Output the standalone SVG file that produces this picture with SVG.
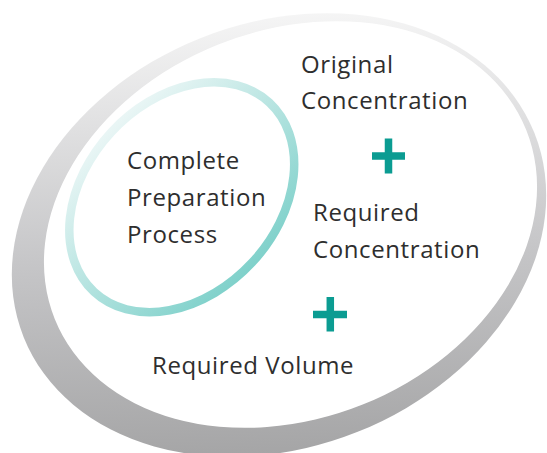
<svg xmlns="http://www.w3.org/2000/svg" width="547" height="453" viewBox="0 0 547 453">
  <style>
    .lbl { font-family: "Open Sans", "Liberation Sans", sans-serif; font-size: 24px; letter-spacing: 0.6px; fill: #2e2e2e; }
    .plus { stroke: #0b9c92; stroke-width: 7.5; fill: none; }
  </style>
  <defs>
    <linearGradient id="gOuter" gradientUnits="userSpaceOnUse" x1="220" y1="460" x2="380" y2="15">
      <stop offset="0" stop-color="#a3a3a4"/>
      <stop offset="0.45" stop-color="#c6c6c8"/>
      <stop offset="1" stop-color="#f9f9f9"/>
    </linearGradient>
    <linearGradient id="gTeal" gradientUnits="userSpaceOnUse" x1="170" y1="318" x2="185" y2="80">
      <stop offset="0" stop-color="#74cdc6"/>
      <stop offset="1" stop-color="#f3f9f9"/>
    </linearGradient>
  </defs>
  <rect width="547" height="453" fill="#ffffff"/>
  <g id="outer-ring">
    <ellipse cx="279" cy="235" rx="275" ry="212" transform="rotate(-21.8 279 235)" fill="url(#gOuter)"/>
    <ellipse cx="290.5" cy="224.5" rx="254" ry="194" transform="rotate(-21.85 290.5 224.5)" fill="#ffffff"/>
  </g>
  <g id="inner-ring">
    <ellipse cx="181.75" cy="197.25" rx="129" ry="96" transform="rotate(-47.2 181.75 197.25)" fill="none" stroke="url(#gTeal)" stroke-width="8.5"/>
  </g>
  <g id="complete-preparation-process">
    <text class="lbl" x="127" y="169.3">Complete</text>
    <text class="lbl" x="127" y="206">Preparation</text>
    <text class="lbl" x="127" y="242.7">Process</text>
  </g>
  <g id="original-concentration">
    <text class="lbl" x="301" y="72.8">Original</text>
    <text class="lbl" x="301" y="109.3">Concentration</text>
  </g>
  <g id="required-concentration">
    <text class="lbl" x="313" y="220.8">Required</text>
    <text class="lbl" x="313" y="258.3">Concentration</text>
  </g>
  <g id="required-volume">
    <text class="lbl" x="152" y="374.3">Required Volume</text>
  </g>
  <g id="plus-1">
    <path class="plus" d="M372 156 H405 M388.5 138.5 V173.5"/>
  </g>
  <g id="plus-2">
    <path class="plus" d="M313 314.5 H347 M330.3 297 V331.5"/>
  </g>
  <g id="connectors"/>
</svg>
